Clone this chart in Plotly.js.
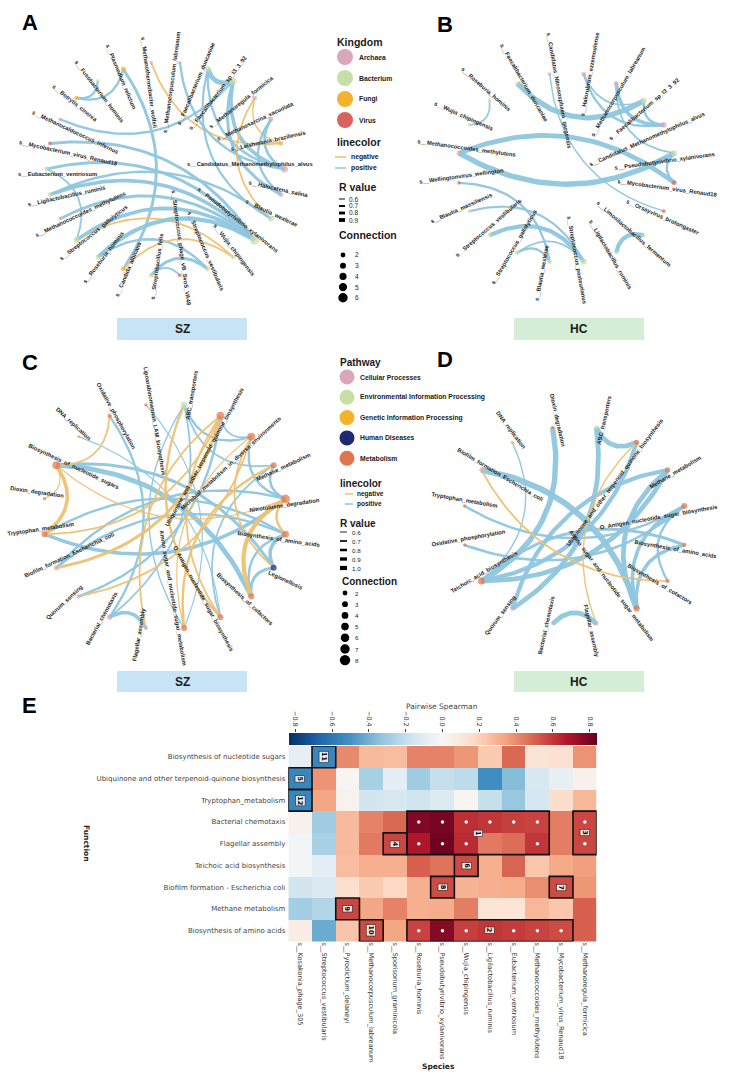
<!DOCTYPE html>
<html><head><meta charset="utf-8">
<script src="https://cdn.plot.ly/plotly-3.0.1.min.js"></script>
<style>body{margin:0;background:#fff}#chart{width:732px;height:1084px}</style>
</head><body><div id="chart"></div>
<script>
const W = 732, H = 1084;

// ---------------- Panel A (SZ species network) ----------------
const nodesA = ['s__Candidatus_Methanomethylophilus_alvus','s__Halocatena_salina','s__Blautia_wexlerae','s__Pseudobutyrivibrio_xylanivorans','s__Wujia_chipingensis','s__Streptococcus_vestibularis','s__Streptococcus_phage_vB_SvoS_VA48','s__Streptobacillus_felis','s__Candida_albicans','s__Roseburia_hominis','s__Streptococcus_gallolyticus','s__Methanococcoides_methylutens','s__Ligilactobacillus_ruminis','s__Eubacterium_ventriosum','s__Mycobacterium_virus_Renaud18','s__Methanocaldococcus_infernus','s__Botrytis_cinerea','s__Fusobacterium_hominis','s__Plasmodium_relictum','s__Methanothermobacter_wolfeii','s__Methanocorpusculum_labreanum','s__Faecalibacterium_duncaniae','s__Faecalibacterium_sp_I3_3_92','s__Methanoregula_formicica','s__Methanosarcina_vacuolata','s__Leishmania_braziliensis'];
const kingdomA = ['Archaea','Archaea','Bacterium','Bacterium','Bacterium','Bacterium','Virus','Bacterium','Fungi','Bacterium','Bacterium','Archaea','Bacterium','Bacterium','Virus','Archaea','Fungi','Bacterium','Fungi','Archaea','Archaea','Bacterium','Bacterium','Archaea','Archaea','Fungi'];
const edgeFromA = [16,16,18,19,20,21,21,22,22,21,15,23,23,24,24,14,13,12,12,11,10,10,9,9,8,7,7,13];
const edgeToA   = [17,18, 8,25, 0,22, 0, 0, 1, 2,22, 2,25, 1, 0, 3, 3, 3, 2, 3, 4, 3, 3, 5, 4, 5, 6,10];
const edgeRA    = [0.7,0.7,0.75,-0.65,0.7,0.9,0.7,0.8,0.75,0.68,0.7,-0.65,-0.62,0.7,0.72,0.75,0.75,0.8,0.7,0.75,-0.65,0.8,0.85,0.7,-0.65,0.75,0.65,0.65];

// ---------------- Panel B (HC species network) ----------------
const nodesB = ['s__Mycobacterium_virus_Renaud18','s__Orsayvirus_brotongaster','s__Limosilactobacillus_fermentum','s__Ligilactobacillus_ruminis','s__Streptococcus_pasteurianus','s__Blautia_wexlerae','s__Streptococcus_gallolyticus','s__Streptococcus_vestibularis','s__Blautia_massiliensis','s__Wellingtonvirus_wellington','s__Methanococcoides_methylutens','s__Wujia_chipingensis','s__Roseburia_hominis','s__Faecalibacterium_duncaniae','s__Candidatus_Nitrososphaera_gargensis','s__Halorubrum_ezzemoulense','s__Methanocorpusculum_labreanum','s__Faecalibacterium_sp_I3_3_92','s__Candidatus_Methanomethylophilus_alvus','s__Pseudobutyrivibrio_xylanivorans'];
const kingdomB = ['Virus','Virus','Bacterium','Bacterium','Bacterium','Bacterium','Bacterium','Bacterium','Bacterium','Virus','Archaea','Bacterium','Bacterium','Bacterium','Archaea','Archaea','Archaea','Bacterium','Archaea','Bacterium'];
const edgeFromB = [13,10,10,19,14,15,15,16,16,17,12,9,8,7,6,6,2];
const edgeToB   = [17,19, 0, 0, 1,18,17,18,19,18,11,5,4,4,5,4,3];
const edgeRB    = [0.95,0.95,0.9,0.7,0.62,0.7,0.65,0.8,0.65,0.7,0.65,0.7,0.68,0.85,0.7,0.65,0.85];

// ---------------- Panel C (SZ pathway network) ----------------
const nodesC = ['Biosynthesis_of_amino_acids','Legionellosis','Biosynthesis_of_cofactors','O_Antigen_nucleotide_sugar_biosynthesis','Amino_sugar_and_nucleotide_sugar_metabolism','Flagellar_assembly','Bacterial_chemotaxis','Quorum_sensing','Biofilm_formation_Escherichia_coli','Tryptophan_metabolism','Dioxin_degradation','Biosynthesis_of_nucleotide_sugars','DNA_replication','Oxidative_phosphorylation','Lipoarabinomannan_LAM_biosynthesis','ABC_transporters','Ubiquinone_and_other_terpenoid_quinone_biosynthesis','Microbial_metabolism_in_diverse_environments','Methane_metabolism','Nitrotoluene_degradation'];
const pathwayC = ['Metabolism','Human Diseases','Metabolism','Metabolism','Metabolism','Cellular Processes','Cellular Processes','Cellular Processes','Cellular Processes','Metabolism','Metabolism','Metabolism','Genetic Information Processing','Metabolism','Metabolism','Environmental Information Processing','Metabolism','Metabolism','Metabolism','Metabolism'];
const edgeFromC = [11,11,15,15,15,17,18,16,0,1,0,5,7,8,9,9,12,13,14,6,8,3, 11,13,10,16,16,15,19,18,17,16,19,17,11,4,3];
const edgeToC   = [ 2, 1,17,18, 4,19,19,17,1,2,2,6,16,19,19,0,3,6,4,15,0,18, 9,11,11,8,9,3,2,4,7,5,0,1,19,17,16];
const edgeRC    = [0.9,0.75,0.7,0.65,0.62,0.7,0.72,0.65,0.8,0.75,0.7,0.8,0.7,0.7,0.8,0.7,0.6,0.7,0.6,0.65,0.7,0.65,
                   -0.8,-0.65,-0.6,-0.75,-0.65,-0.7,-0.85,-0.7,-0.65,-0.65,-0.7,-0.65,-0.6,-0.6,-0.65];

// ---------------- Panel D (HC pathway network) ----------------
const nodesD = ['Biosynthesis_of_amino_acids','Biosynthesis_of_cofactors','Amino_sugar_and_nucleotide_sugar_metabolism','Flagellar_assembly','Bacterial_chemotaxis','Quorum_sensing','Teichoic_acid_biosynthesis','Oxidative_phosphorylation','Tryptophan_metabolism','Biofilm_formation_Escherichia_coli','DNA_replication','Dioxin_degradation','ABC_transporters','Ubiquinone_and_other_terpenoid_quinone_biosynthesis','Methane_metabolism','O_Antigen_nucleotide_sugar_biosynthesis'];
const pathwayD = ['Metabolism','Metabolism','Metabolism','Cellular Processes','Cellular Processes','Cellular Processes','Metabolism','Metabolism','Metabolism','Cellular Processes','Genetic Information Processing','Metabolism','Environmental Information Processing','Metabolism','Metabolism','Metabolism'];
const edgeFromD = [9,11,10,12,12,13,14,14,14,15,15,15,0,0,9,3,4,15];
const edgeToD   = [2, 6, 6,13, 5, 6, 6, 2, 5, 8, 7, 1,6,2,1,13,3, 2];
const edgeRD    = [1.0,0.95,0.62,0.9,0.9,0.85,0.9,0.9,0.85,0.7,0.72,0.7,0.75,0.8,-0.65,-0.62,0.9,0.8];

// ---------------- Legends ----------------
const kingdoms = ['Archaea','Bacterium','Fungi','Virus'];
const kingdomColors = ['#d9a6ba','#c9dea7','#f4b32c','#d9625c'];
const pathways = ['Cellular Processes','Environmental Information Processing','Genetic Information Processing','Human Diseases','Metabolism'];
const pathwayColors = ['#d9a7b9','#c9dea7','#f4b32c','#1f2a75','#e0744b'];
const rLegendA = [0.6,0.7,0.8,0.9];
const rLegendC = [0.6,0.7,0.8,0.9,1.0];
const connLegendA = [2,3,4,5,6];
const connLegendC = [2,3,4,5,6,7,8];

// ---------------- Panel E heatmap ----------------
const functionsE = ['Biosynthesis of nucleotide sugars','Ubiquinone and other terpenoid-quinone biosynthesis','Tryptophan_metabolism','Bacterial chemotaxis','Flagellar assembly','Teichoic acid biosynthesis','Biofilm formation - Escherichia coli','Methane metabolism','Biosynthesis of amino acids'];
const speciesE = ['s__Kosakonia_phage_305','s__Streptococcus_vestibularis','s__Pyrodictium_delaneyi','s__Methanocorpusculum_labreanum','s__Sporisorium_graminicola','s__Roseburia_hominis','s__Pseudobutyrivibrio_xylanivorans','s__Wujia_chipingensis','s__Ligilactobacillus_ruminis','s__Eubacterium_ventriosum','s__Methanococcoides_methylutens','s__Mycobacterium_virus_Renaud18','s__Methanoregula_formicica'];
const spearman = [
 [-0.07,-0.55,0.40,0.27,0.26,0.42,0.42,0.37,0.22,0.48,0.12,0.13,0.38],
 [-0.55,0.38,0.02,-0.28,-0.08,-0.30,-0.20,-0.22,-0.52,-0.36,-0.14,-0.07,0.04],
 [-0.55,0.33,0.03,-0.16,-0.14,-0.17,-0.12,0.02,-0.20,-0.32,-0.15,0.15,0.28],
 [0.04,-0.30,0.27,0.42,0.48,0.78,0.80,0.62,0.60,0.58,0.57,0.43,0.56],
 [-0.02,-0.28,0.27,0.44,0.56,0.68,0.82,0.63,0.44,0.47,0.60,0.43,0.56],
 [-0.02,-0.08,0.26,0.30,0.30,0.50,0.46,0.55,0.30,0.49,0.23,0.32,0.35],
 [-0.16,-0.13,0.14,0.22,0.17,0.30,0.55,0.29,0.30,0.31,0.39,0.55,0.37],
 [-0.29,-0.25,0.56,0.33,0.42,0.30,0.31,0.43,0.11,0.11,0.28,0.23,0.50],
 [0.06,-0.42,0.24,0.55,0.33,0.57,0.77,0.58,0.60,0.59,0.57,0.55,0.50]
];
const colorTicks = [-0.8,-0.6,-0.4,-0.2,0.0,0.2,0.4,0.6,0.8];
const boxNum  = ['11','5','12','1','3','4','6','8','7','9','10','2'];
const boxRow0 = [0,1,2,3,3,4,5,6,6,7,8,8];
const boxRow1 = [0,1,2,4,4,4,5,6,6,7,8,8];
const boxCol0 = [1,0,0,5,12,4,7,6,11,2,3,5];
const boxCol1 = [1,0,0,10,12,4,7,6,11,2,3,11];
const boxLabRow = [0,1,2,3.5,3.5,4,5,6,6,7,8,8];
const boxLabCol = [1,0,0,7.5,12,4,7,6,11,2,3,8];
const dotRow = [3,3,3,3,3,3,3, 4,4,4,4,4, 8,8,8,8,8,8];
const dotCol = [5,6,7,8,9,10,12, 5,6,7,10,12, 5,6,7,9,10,11];

// ---------------- helpers ----------------
const POS = '#8fc6de', NEG = '#eec172';
const RAD = Math.PI/180;
const PX = p => p / W, PY = p => 1 - p / H;
const traces = [], shapes = [], annotations = [], layoutAxes = {};
const LABEL_SIZE = 5.8;
const labelFont = {family:'Liberation Sans, Arial, sans-serif', size:LABEL_SIZE, color:'#1e1e1e', weight:'bold'};

function network(cfg){
  const n = cfg.nodes.length;
  const P = cfg.nodes.map((_, i) => { const th = (cfg.start + i*360/n)*RAD; return [cfg.rx*Math.cos(th), cfg.ry*Math.sin(th)]; });
  const deg = new Array(n).fill(0);
  cfg.from.forEach((a, k) => { deg[a]++; deg[cfg.to[k]]++; });
  const diam = cfg.rx + cfg.ry;
  cfg.from.forEach((a, k) => {
    const b = cfg.to[k], r = cfg.r[k];
    const p0 = P[a], p2 = P[b];
    const mx = (p0[0]+p2[0])/2, my = (p0[1]+p2[1])/2;
    const dx = p2[0]-p0[0], dy = p2[1]-p0[1];
    const L = Math.hypot(dx, dy);
    let nx = -dy/L, ny = dx/L;
    if (nx*(-mx) + ny*(-my) < 0) { nx = -nx; ny = -ny; }
    const off = L*0.55*(1 - 0.45*L/diam);
    const c = [mx + nx*off, my + ny*off];
    const xs = [], ys = [];
    for (let s = 0; s <= 40; s++) {
      const t = s/40, u = 1 - t;
      const bx = u*u*p0[0] + 2*u*t*c[0] + t*t*p2[0];
      const by = u*u*p0[1] + 2*u*t*c[1] + t*t*p2[1];
      xs.push(bx/cfg.rx); ys.push(-by/cfg.ry);
    }
    traces.push({type:'scatter', mode:'lines', x:xs, y:ys, xaxis:cfg.xa, yaxis:cfg.ya,
      line:{color: r > 0 ? POS : NEG, width: (Math.abs(r)-0.5)*12}, opacity:0.95, hoverinfo:'skip', showlegend:false});
  });
  traces.push({type:'scatter', mode:'markers', x:P.map(p => p[0]/cfg.rx), y:P.map(p => -p[1]/cfg.ry),
    xaxis:cfg.xa, yaxis:cfg.ya, hoverinfo:'skip', showlegend:false,
    marker:{size:deg.map(d => cfg.sBase + cfg.sK*d), color:cfg.groups.map(g => cfg.palette[cfg.cats.indexOf(g)]), line:{width:0}}});
  cfg.nodes.forEach((name, i) => {
    const p = P[i], R = Math.hypot(p[0], p[1]);
    const ux = p[0]/R, uy = p[1]/R;
    const phi = Math.atan2(uy, ux)/RAD;
    let ang = phi; if (ang > 90) ang -= 180; if (ang < -90) ang += 180;
    const Ltxt = name.length * LABEL_SIZE * 0.54;
    const rr = R + cfg.gap - Ltxt/2;
    const lx = ux*rr - uy*cfg.perp, ly = uy*rr + ux*cfg.perp;
    annotations.push({xref:cfg.xa, yref:cfg.ya, x:lx/cfg.rx, y:-ly/cfg.ry, text:name, showarrow:false,
      textangle:ang, xanchor:'center', yanchor:'middle', font:labelFont});
  });
  const ext = cfg.ext;
  const xk = 'xaxis' + cfg.xa.slice(1), yk = 'yaxis' + cfg.ya.slice(1);
  layoutAxes[xk] = {domain:[PX(cfg.cx - ext*cfg.rx), PX(cfg.cx + ext*cfg.rx)], range:[-ext, ext], visible:false, anchor:cfg.ya, fixedrange:true};
  layoutAxes[yk] = {domain:[PY(cfg.cy + ext*cfg.ry), PY(cfg.cy - ext*cfg.ry)], range:[-ext, ext], visible:false, anchor:cfg.xa, fixedrange:true};
}

network({nodes:nodesA, groups:kingdomA, cats:kingdoms, palette:kingdomColors, from:edgeFromA, to:edgeToA, r:edgeRA,
  start:0, cx:165.5, cy:169, rx:119, ry:107, ext:1.3, xa:'x', ya:'y', sBase:2.5, sK:1.15, gap:28, perp:-5});
network({nodes:nodesB, groups:kingdomB, cats:kingdoms, palette:kingdomColors, from:edgeFromB, to:edgeToB, r:edgeRB,
  start:9, cx:566.7, cy:168, rx:109, ry:95, ext:1.3, xa:'x2', ya:'y2', sBase:2.5, sK:1.15, gap:42, perp:6});
network({nodes:nodesC, groups:pathwayC, cats:pathways, palette:pathwayColors, from:edgeFromC, to:edgeToC, r:edgeRC,
  start:9, cx:165, cy:516.5, rx:122, ry:113, ext:1.3, xa:'x3', ya:'y3', sBase:2.5, sK:0.9, gap:36, perp:6});
network({nodes:nodesD, groups:pathwayD, cats:pathways, palette:pathwayColors, from:edgeFromD, to:edgeToD, r:edgeRD,
  start:11.25, cx:574.5, cy:525.5, rx:112, ry:100, ext:1.3, xa:'x4', ya:'y4', sBase:2.5, sK:0.9, gap:34, perp:6});

// ---------------- paper helpers ----------------
function txt(x, y, text, size, o = {}) {
  annotations.push(Object.assign({xref:'paper', yref:'paper', x:PX(x), y:PY(y), text:text, showarrow:false,
    xanchor:'left', yanchor:'middle', font:{family:'Liberation Sans, Arial, sans-serif', size:size, color:'#1a1a1a', weight:'bold'}}, o));
}
function circ(cx, cy, r, color) {
  shapes.push({type:'circle', xref:'paper', yref:'paper', x0:PX(cx-r), x1:PX(cx+r), y0:PY(cy+r), y1:PY(cy-r), fillcolor:color, line:{width:0}});
}
function seg(x0, y0, x1, y1, color, w) {
  shapes.push({type:'line', xref:'paper', yref:'paper', x0:PX(x0), x1:PX(x1), y0:PY(y0), y1:PY(y1), line:{color:color, width:w}});
}
function rect(x0, y0, x1, y1, color) {
  shapes.push({type:'rect', xref:'paper', yref:'paper', x0:PX(x0), x1:PX(x1), y0:PY(y1), y1:PY(y0), fillcolor:color, line:{width:0}, layer:'below'});
}

// panel letters
[['A',30,23],['B',445,25],['C',30,362],['D',445,360],['E',29,705]].forEach(([t,x,y]) => txt(x, y, t, 22, {xanchor:'center', font:{family:'Liberation Sans, Arial, sans-serif', size:22, color:'#000', weight:'bold'}}));

// group bands
[[117,247,318,340,'#c6e4f5','SZ'],[514,644,318,340,'#d3edd7','HC'],[117,247,671,692,'#c6e4f5','SZ'],[514,644,671,692,'#d3edd7','HC']].forEach(b => {
  rect(b[0], b[2], b[1], b[3], b[4]);
  txt((b[0]+b[1])/2, (b[2]+b[3])/2, b[5], 12, {xanchor:'center'});
});

// legend A
txt(335, 42, 'Kingdom', 10.5);
kingdoms.forEach((k, i) => { circ(345, 57 + i*21, 8, kingdomColors[i]); txt(357, 57 + i*21, k, 6.8); });
txt(335, 142, 'linecolor', 10.5);
seg(335, 157, 346, 157, NEG, 1.5); txt(349, 157, 'negative', 6.8);
seg(335, 168, 346, 168, POS, 1.5); txt(349, 168, 'positive', 6.8);
txt(337, 187, 'R value', 10.5);
rLegendA.forEach((r, i) => { const y = 199 + i*7; seg(339, y, 345, y, '#000', (r-0.5)*12*0.8); txt(347, y, r.toFixed(1), 6.5, {font:{family:'Liberation Sans, Arial, sans-serif', size:6.5, color:'#222'}}); });
txt(337, 235, 'Connection', 10.5);
connLegendA.forEach((c, i) => { const y = 255 + i*10.7; circ(343, y, (2.5 + 1.15*c)/2, '#000'); txt(353, y, String(c), 6.5, {font:{family:'Liberation Sans, Arial, sans-serif', size:6.5, color:'#222'}}); });

// legend C
txt(338, 363, 'Pathway', 10);
pathways.forEach((p, i) => { circ(347, 377 + i*20.3, 7.5, pathwayColors[i]); txt(358, 377 + i*20.3, p, 6.8); });
txt(338, 483, 'linecolor', 10);
seg(345, 494, 353, 494, NEG, 1.5); txt(355, 494, 'negative', 6.5);
seg(345, 504, 353, 504, POS, 1.5); txt(355, 504, 'positive', 6.5);
txt(338, 523, 'R value', 10);
rLegendC.forEach((r, i) => { const y = 532 + i*9; seg(340, y, 347, y, '#000', (r-0.5)*12*0.7); txt(350, y, r.toFixed(1), 6.2, {font:{family:'Liberation Sans, Arial, sans-serif', size:6.2, color:'#222'}}); });
txt(340, 581, 'Connection', 10);
connLegendC.forEach((c, i) => { const y = 593 + i*11.2; circ(345, y, (2.5 + 0.9*c)/2 + 0.3, '#000'); txt(353, y, String(c), 6.2, {font:{family:'Liberation Sans, Arial, sans-serif', size:6.2, color:'#222'}}); });

// ---------------- heatmap ----------------
const hx0 = 288.3, hx1 = 596.7, hy0 = 746, hy1 = 941.5;
const RdBu_r = [[0,'#053061'],[0.1,'#2166ac'],[0.2,'#4393c3'],[0.3,'#92c5de'],[0.4,'#d1e5f0'],[0.5,'#f7f7f7'],[0.6,'#fddbc7'],[0.7,'#f4a582'],[0.8,'#d6604d'],[0.9,'#b2182b'],[1,'#67001f']];
traces.push({type:'heatmap', x:speciesE, y:functionsE, z:spearman, xaxis:'x5', yaxis:'y5', zmin:-0.838, zmax:0.838,
  colorscale:RdBu_r, hoverinfo:'skip',
  colorbar:{orientation:'h', x:PX((hx0+hx1)/2), xanchor:'center', y:PY(733), yanchor:'top', len:hx1-hx0, lenmode:'pixels',
    thickness:12, thicknessmode:'pixels', xpad:0, ypad:0, outlinewidth:0, showticklabels:false, ticks:''}});
traces.push({type:'scatter', mode:'markers', x:dotCol.map(c => speciesE[c]), y:dotRow.map(r => functionsE[r]), xaxis:'x5', yaxis:'y5',
  marker:{size:3.5, color:'#fff'}, hoverinfo:'skip', showlegend:false});
traces.push({type:'scatter', mode:'markers', x:[], y:[], xaxis:'x6', yaxis:'y6', hoverinfo:'skip', showlegend:false});
const hfont = {family:'DejaVu Sans, sans-serif', size:7, color:'#444'};
layoutAxes.xaxis5 = {domain:[PX(hx0), PX(hx1)], anchor:'y5', type:'category', range:[-0.5, speciesE.length-0.5], tickangle:90,
  tickfont:{family:'DejaVu Sans, sans-serif', size:6.6, color:'#333'}, ticks:'', showgrid:false, zeroline:false, showline:false, fixedrange:true};
layoutAxes.yaxis5 = {domain:[PY(hy1), PY(hy0)], anchor:'x5', type:'category', range:[functionsE.length-0.5, -0.5],
  tickfont:hfont, ticks:'', showgrid:false, zeroline:false, showline:false, fixedrange:true, ticklabelstandoff:2};
layoutAxes.xaxis6 = {domain:[PX(hx0), PX(hx1)], anchor:'y6', side:'top', range:[-0.838, 0.838], tickvals:colorTicks, tickformat:'.1f',
  tickangle:90, ticks:'outside', ticklen:3, tickcolor:'#444', tickfont:{family:'DejaVu Sans, sans-serif', size:6.5, color:'#333'},
  showgrid:false, zeroline:false, showline:false, fixedrange:true};
layoutAxes.yaxis6 = {domain:[PY(745), PY(733)], anchor:'x6', range:[0,1], visible:false, fixedrange:true};

boxNum.forEach((t, k) => {
  shapes.push({type:'rect', xref:'x5', yref:'y5', x0:boxCol0[k]-0.5, x1:boxCol1[k]+0.5, y0:boxRow0[k]-0.5, y1:boxRow1[k]+0.5,
    line:{color:'#111', width:1.6}, fillcolor:'rgba(0,0,0,0)'});
  annotations.push({xref:'x5', yref:'y5', x:boxLabCol[k], y:boxLabRow[k], text:t, showarrow:false, textangle:90,
    font:{family:'DejaVu Sans, sans-serif', size:6.5, color:'#000', weight:'bold'}, bgcolor:'rgba(255,255,255,0.85)', borderpad:0.5,
    bordercolor:'#222', borderwidth:0.6});
});
txt(442, 706, 'Pairwise Spearman', 7.5, {xanchor:'center', font:{family:'DejaVu Sans, sans-serif', size:7.5, color:'#444'}});
txt(87, 843, 'Function', 7.5, {xanchor:'center', textangle:90, font:{family:'DejaVu Sans, sans-serif', size:7.5, color:'#222', weight:'bold'}});
txt(438, 1066, 'Species', 7.5, {xanchor:'center', font:{family:'DejaVu Sans, sans-serif', size:7.5, color:'#222', weight:'bold'}});

const layout = Object.assign({width:W, height:H, margin:{l:0, r:0, t:0, b:0}, paper_bgcolor:'#fff', plot_bgcolor:'rgba(0,0,0,0)',
  showlegend:false, shapes:shapes, annotations:annotations}, layoutAxes);
Plotly.newPlot('chart', traces, layout, {displayModeBar:false, staticPlot:true});
</script></body></html>
